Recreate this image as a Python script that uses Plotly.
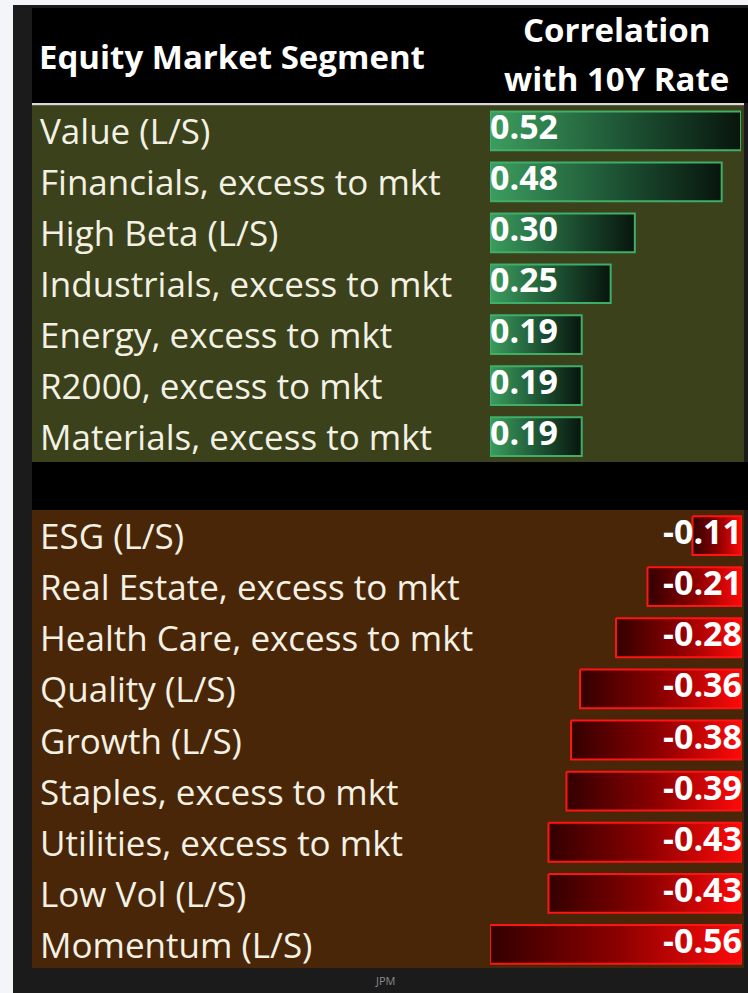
import plotly.graph_objects as go

# data
pos_labels = [
    "Value (L/S)",
    "Financials, excess to mkt",
    "High Beta (L/S)",
    "Industrials, excess to mkt",
    "Energy, excess to mkt",
    "R2000, excess to mkt",
    "Materials, excess to mkt",
]
pos_values = [0.52, 0.48, 0.30, 0.25, 0.19, 0.19, 0.19]

neg_labels = [
    "ESG (L/S)",
    "Real Estate, excess to mkt",
    "Health Care, excess to mkt",
    "Quality (L/S)",
    "Growth (L/S)",
    "Staples, excess to mkt",
    "Utilities, excess to mkt",
    "Low Vol (L/S)",
    "Momentum (L/S)",
]
neg_values = [-0.11, -0.21, -0.28, -0.36, -0.38, -0.39, -0.43, -0.43, -0.56]

header_left = "Equity Market Segment"
header_right = ["Correlation", "with 10Y Rate"]
source = "JPM"

W, H = 748, 993


def px(x):
    return x / W


def py(y):
    return 1 - y / H


LABEL_FONT = dict(family="Open Sans", size=35, color="#f3f1e4")
VALUE_FONT = dict(family="Open Sans", size=34, color="white", weight="bold")
HALF = 0.38

fig = go.Figure()

# positive (green) bars
for i, v in enumerate(pos_values):
    fig.add_trace(
        go.Scatter(
            x=[0, v, v, 0, 0],
            y=[i - HALF, i - HALF, i + HALF, i + HALF, i - HALF],
            mode="lines",
            fill="toself",
            fillgradient=dict(
                type="horizontal",
                colorscale=[[0, "#3c9d5f"], [0.55, "#1d5233"], [1, "#08150d"]],
            ),
            line=dict(color="#3fae68", width=2),
            hoverinfo="skip",
            showlegend=False,
            xaxis="x",
            yaxis="y",
        )
    )

fig.add_trace(
    go.Scatter(
        x=[0] * len(pos_values),
        y=list(range(len(pos_values))),
        mode="text",
        text=[f"{v:.2f}" for v in pos_values],
        textposition="middle right",
        textfont=VALUE_FONT,
        hoverinfo="skip",
        showlegend=False,
        xaxis="x",
        yaxis="y",
    )
)

# negative (red) bars
for i, v in enumerate(neg_values):
    fig.add_trace(
        go.Scatter(
            x=[v, 0, 0, v, v],
            y=[i - HALF, i - HALF, i + HALF, i + HALF, i - HALF],
            mode="lines",
            fill="toself",
            fillgradient=dict(
                type="horizontal",
                colorscale=[[0, "#330000"], [0.5, "#8a0000"], [1, "#ff0a0a"]],
            ),
            line=dict(color="#ff1414", width=2),
            hoverinfo="skip",
            showlegend=False,
            xaxis="x2",
            yaxis="y2",
        )
    )

fig.add_trace(
    go.Scatter(
        x=[0] * len(neg_values),
        y=list(range(len(neg_values))),
        mode="text",
        text=[f"{v:.2f}" for v in neg_values],
        textposition="middle left",
        textfont=VALUE_FONT,
        hoverinfo="skip",
        showlegend=False,
        xaxis="x2",
        yaxis="y2",
    )
)

# row labels
annotations = []
for i, lab in enumerate(pos_labels):
    annotations.append(
        dict(text=lab, x=px(38), y=i, xref="paper", yref="y", xanchor="left",
             yanchor="middle", showarrow=False, font=LABEL_FONT)
    )
for i, lab in enumerate(neg_labels):
    annotations.append(
        dict(text=lab, x=px(38), y=i, xref="paper", yref="y2", xanchor="left",
             yanchor="middle", showarrow=False, font=LABEL_FONT)
    )

# header + source
head_font = dict(family="Open Sans", size=33, color="white", weight="bold")
annotations += [
    dict(text=header_left, x=px(37), y=py(56), xref="paper", yref="paper",
         xanchor="left", yanchor="middle", showarrow=False, font=head_font),
    dict(text=header_right[0], x=px(616), y=py(30), xref="paper", yref="paper",
         xanchor="center", yanchor="middle", showarrow=False, font=head_font),
    dict(text=header_right[1], x=px(616), y=py(78), xref="paper", yref="paper",
         xanchor="center", yanchor="middle", showarrow=False, font=head_font),
    dict(text=source, x=px(385), y=py(980), xref="paper", yref="paper",
         xanchor="center", yanchor="middle", showarrow=False,
         font=dict(family="Open Sans", size=11, color="#8a8a8a")),
]

# panels
shapes = [
    dict(type="rect", xref="paper", yref="paper", x0=px(13), x1=1, y0=0, y1=py(5),
         fillcolor="#1b1b1b", line_width=0, layer="below"),
    dict(type="rect", xref="paper", yref="paper", x0=px(32), x1=1, y0=py(103), y1=py(8),
         fillcolor="#000000", line_width=0, layer="below"),
    dict(type="rect", xref="paper", yref="paper", x0=px(32), x1=px(744), y0=py(105.5), y1=py(103),
         fillcolor="#d8d8d8", line_width=0, layer="below"),
    dict(type="rect", xref="paper", yref="paper", x0=px(32), x1=px(744), y0=py(462), y1=py(105.5),
         fillcolor="#3b411b", line_width=0, layer="below"),
    dict(type="rect", xref="paper", yref="paper", x0=px(32), x1=1, y0=py(510), y1=py(462),
         fillcolor="#000000", line_width=0, layer="below"),
    dict(type="rect", xref="paper", yref="paper", x0=px(32), x1=px(744), y0=py(968), y1=py(510),
         fillcolor="#4a2608", line_width=0, layer="below"),
]

axis_off = dict(visible=False, showgrid=False, zeroline=False, fixedrange=True)

fig.update_layout(
    width=W,
    height=H,
    margin=dict(l=0, r=0, t=0, b=0),
    paper_bgcolor="#f3f5f8",
    plot_bgcolor="rgba(0,0,0,0)",
    xaxis=dict(axis_off, domain=[px(490), px(741)], range=[0, 0.52], anchor="y"),
    yaxis=dict(axis_off, domain=[py(462), py(105.5)], range=[len(pos_values) - 0.5, -0.5],
               anchor="x"),
    xaxis2=dict(axis_off, domain=[px(490), px(742)], range=[-0.56, 0], anchor="y2"),
    yaxis2=dict(axis_off, domain=[py(970), py(510)], range=[len(neg_values) - 0.5, -0.5],
                anchor="x2"),
    shapes=shapes,
    annotations=annotations,
)

# the page's default body margin would shift the fixed-size figure
fig.write_html(
    "out.html",
    config={"displayModeBar": False},
    post_script="document.body.style.margin='0';",
)
